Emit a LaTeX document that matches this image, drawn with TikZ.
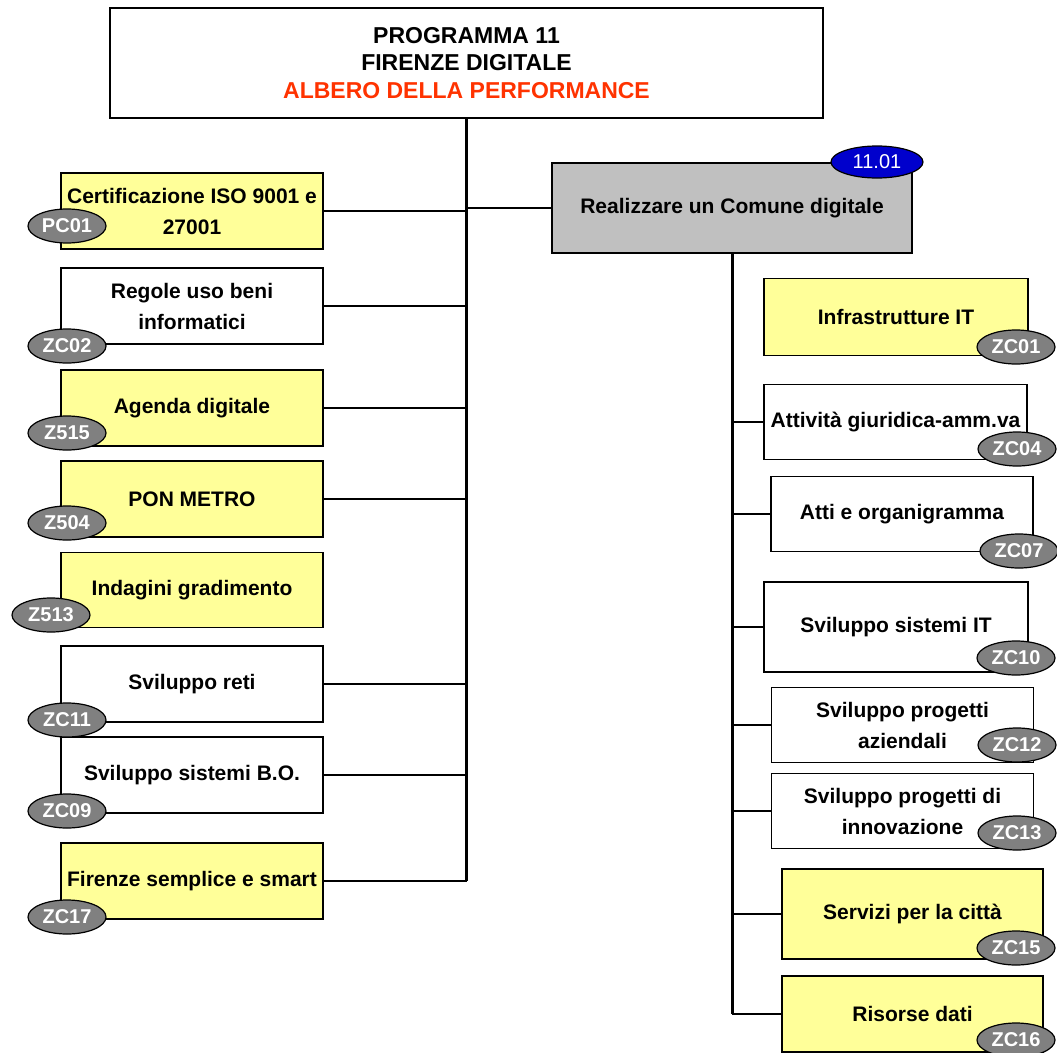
\documentclass[tikz,border=0pt]{standalone}
\usepackage{fontspec}
\setmainfont{Liberation Sans}
\usepackage{tikz}
\usetikzlibrary{shapes.geometric, positioning}
\definecolor{perfyellow}{HTML}{FFFF99}
\definecolor{perfgrey}{HTML}{C0C0C0}
\definecolor{tagfill}{HTML}{808080}
\definecolor{tagblue}{HTML}{0000CC}
\definecolor{perfred}{HTML}{FF3300}

\begin{document}
\begin{tikzpicture}[x=1pt, y=-1pt,
  obj/.style={draw=black, line width=1.5pt, fill=white, inner sep=0pt,
    minimum width=262pt, minimum height=76pt, align=center,
    font=\bfseries\fontsize{21}{31}\selectfont},
  yobj/.style={obj, fill=perfyellow},
  codetag/.style={ellipse, draw=black, line width=1.2pt, fill=tagfill, text=white,
    minimum width=78pt, minimum height=34pt, inner sep=0pt,
    font=\bfseries\fontsize{20}{20}\selectfont},
  link/.style={line width=1.5pt},
  trunk/.style={line width=3pt}]
  \useasboundingbox[fill=white] (0,0) rectangle (1057,1052);

  \node[obj, minimum width=713pt, minimum height=110pt,
    font=\bfseries\fontsize{23}{27.5}\selectfont] (title) at (466.5,63)
    {PROGRAMMA 11\\FIRENZE DIGITALE\\\textcolor{perfred}{ALBERO DELLA PERFORMANCE}};

  % left branch
  \node[yobj] (cert) at (192,211) {Certificazione ISO 9001 e\\27001};
  \node[obj] (regole) at (192,306) {Regole uso beni\\informatici};
  \node[yobj] (agenda) at (192,408) {Agenda digitale};
  \node[yobj] (pon) at (192,499) {PON METRO};
  \node[yobj, minimum height=75pt] (indag) at (192,590) {Indagini gradimento};
  \node[obj] (reti) at (192,684) {Sviluppo reti};
  \node[obj] (bo) at (192,775) {Sviluppo sistemi B.O.};
  \node[yobj] (smart) at (192,881) {Firenze semplice e smart};

  % objective
  \node[obj, fill=perfgrey, minimum width=360pt, minimum height=90pt] (goal) at (732,208)
    {Realizzare un Comune digitale};

  % right branch
  \node[yobj, minimum width=264pt, minimum height=77pt] (infra) at (896,317) {Infrastrutture IT};
  \node[obj, minimum width=263pt, minimum height=75pt] (giur) at (895.5,422) {Attività giuridica-amm.va};
  \node[obj, minimum height=75pt] (atti) at (902,514) {Atti e organigramma};
  \node[obj, minimum width=264pt, minimum height=90pt] (sit) at (896,627) {Sviluppo sistemi IT};
  \node[obj, minimum height=75pt] (azi) at (902.5,725) {Sviluppo progetti\\aziendali};
  \node[obj, minimum height=75pt] (inn) at (902.5,811) {Sviluppo progetti di\\innovazione};
  \node[yobj, minimum width=261pt, minimum height=90pt] (citta) at (912.5,914) {Servizi per la città};
  \node[yobj, minimum width=261pt, minimum height=76pt] (dati) at (912.5,1014) {Risorse dati};

  \draw[trunk] (title.south) -- (title.south |- smart.east);
  \draw[link] (cert.east) -- (cert.east -| title.south);
  \draw[link] (regole.east) -- (regole.east -| title.south);
  \draw[link] (agenda.east) -- (agenda.east -| title.south);
  \draw[link] (pon.east) -- (pon.east -| title.south);
  \draw[link] (reti.east) -- (reti.east -| title.south);
  \draw[link] (bo.east) -- (bo.east -| title.south);
  \draw[link] (smart.east) -- (smart.east -| title.south);
  \draw[link] (goal.west) -- (goal.west -| title.south);

  \draw[trunk] (goal.south) -- (goal.south |- dati.west);
  \draw[link] (giur.west) -- (giur.west -| goal.south);
  \draw[link] (atti.west) -- (atti.west -| goal.south);
  \draw[link] (sit.west) -- (sit.west -| goal.south);
  \draw[link] (azi.west) -- (azi.west -| goal.south);
  \draw[link] (inn.west) -- (inn.west -| goal.south);
  \draw[link] (citta.west) -- (citta.west -| goal.south);
  \draw[link] (dati.west) -- (dati.west -| goal.south);

  % codes
  \node[codetag, fill=tagblue, font=\fontsize{20}{20}\selectfont,
    minimum width=92pt, minimum height=32pt] (goal-c) at (877,162) {11.01};
  \node[codetag] (cert-c) at (67,226) {PC01};
  \node[codetag] (regole-c) at (67,346) {ZC02};
  \node[codetag] (agenda-c) at (67,433) {Z515};
  \node[codetag] (pon-c) at (67,523) {Z504};
  \node[codetag] (indag-c) at (51,615) {Z513};
  \node[codetag] (reti-c) at (67,720) {ZC11};
  \node[codetag] (bo-c) at (67,811) {ZC09};
  \node[codetag] (smart-c) at (67,917) {ZC17};
  \node[codetag] (infra-c) at (1016,347) {ZC01};
  \node[codetag] (giur-c) at (1017,449) {ZC04};
  \node[codetag] (atti-c) at (1019,551) {ZC07};
  \node[codetag] (sit-c) at (1016,658) {ZC10};
  \node[codetag] (azi-c) at (1017,745) {ZC12};
  \node[codetag] (inn-c) at (1017,833) {ZC13};
  \node[codetag] (citta-c) at (1016,948) {ZC15};
  \node[codetag] (dati-c) at (1016,1040) {ZC16};
\end{tikzpicture}
\end{document}
